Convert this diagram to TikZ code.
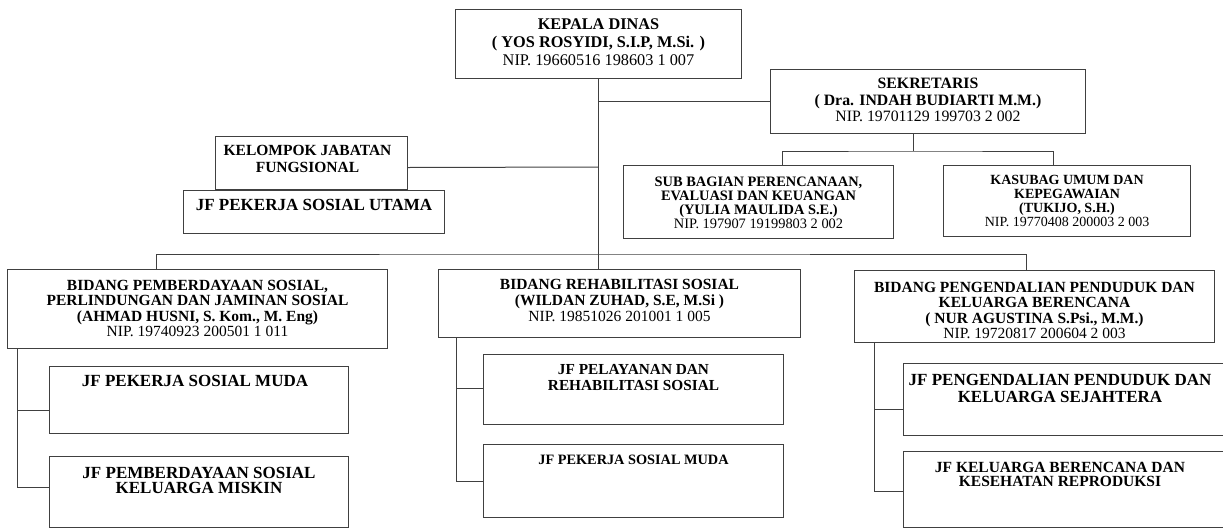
\documentclass[tikz,border=0pt]{standalone}
\usepackage{fontspec}
\setmainfont{Liberation Serif}
\usetikzlibrary{positioning}
\newcommand{\sz}[2]{\fontsize{#1}{#2}\selectfont\bfseries}

\begin{document}
\begin{tikzpicture}[x=1pt, y=-1pt,
    box/.style={draw=black!75, line width=1pt, anchor=north west, inner sep=0pt},
    txt/.style={anchor=north, align=center, inner sep=0pt, yshift=-10pt},
    link/.style={draw=black!75, line width=1pt}]
  \useasboundingbox (0,0) rectangle (1223,528);

  % Pimpinan
  \node[box, minimum width=286, minimum height=69,
    label={[txt, name=kadis-t, font=\sz{16.3}{18}]north:{KEPALA DINAS\\( YOS ROSYIDI, S.I.P, M.Si. )\\\mdseries NIP. 19660516 198603 1 007}}] (kadis) at (455,9) {};
  \node[box, minimum width=315, minimum height=64,
    label={[txt, name=sekr-t, yshift=1pt, font=\sz{15.8}{16.5}]north:{SEKRETARIS\\( Dra. INDAH BUDIARTI M.M.)\\\mdseries NIP. 19701129 199703 2 002}}] (sekr) at (770,69) {};

  % Kelompok jabatan fungsional
  \node[box, minimum width=192, minimum height=53,
    label={[txt, name=kelompok-t, yshift=1pt, xshift=-4pt, font=\sz{15.5}{16.7}]north:{KELOMPOK JABATAN\\FUNGSIONAL}}] (kelompok) at (215,136) {};
  \node[box, minimum width=261, minimum height=43,
    label={[txt, name=jfutama-t, yshift=1pt, font=\sz{17}{18}]north:{JF PEKERJA SOSIAL UTAMA}}] (jfutama) at (183,190) {};

  % Sub bagian
  \node[box, minimum width=270, minimum height=73,
    label={[txt, name=subbag-t, yshift=-2pt, font=\sz{14.4}{14}]north:{SUB BAGIAN PERENCANAAN,\\EVALUASI DAN KEUANGAN\\(YULIA MAULIDA S.E.)\\\mdseries NIP. 197907 19199803 2 002}}] (subbag) at (623,165) {};
  \node[box, minimum width=247, minimum height=71,
    label={[txt, name=kasubag-t, font=\sz{14}{14}]north:{KASUBAG UMUM DAN\\KEPEGAWAIAN\\(TUKIJO, S.H.)\\\mdseries NIP. 19770408 200003 2 003}}] (kasubag) at (943,165) {};

  % Bidang
  \node[box, minimum width=380, minimum height=79,
    label={[txt, name=bidpemb-t, yshift=-1pt, font=\sz{15.5}{15.5}]north:{BIDANG PEMBERDAYAAN SOSIAL,\\PERLINDUNGAN DAN JAMINAN SOSIAL\\(AHMAD HUSNI, S. Kom., M. Eng)\\\mdseries NIP. 19740923 200501 1 011}}] (bidpemb) at (7,269) {};
  \node[box, minimum width=362, minimum height=68,
    label={[txt, name=bidrehab-t, font=\sz{15.5}{16}]north:{BIDANG REHABILITASI SOSIAL\\(WILDAN ZUHAD, S.E, M.Si )\\\mdseries NIP. 19851026 201001 1 005}}] (bidrehab) at (438,269) {};
  \node[box, minimum width=360, minimum height=72,
    label={[txt, name=bidpeng-t, yshift=-2pt, font=\sz{15.5}{15.5}]north:{BIDANG PENGENDALIAN PENDUDUK DAN\\KELUARGA BERENCANA\\( NUR AGUSTINA S.Psi., M.M.)\\\mdseries NIP. 19720817 200604 2 003}}] (bidpeng) at (854,270) {};

  % Jabatan fungsional per bidang
  \node[box, minimum width=299, minimum height=67,
    label={[txt, name=jfmudaL-t, yshift=1pt, xshift=-4pt, font=\sz{17}{17}]north:{JF PEKERJA SOSIAL MUDA}}] (jfmudaL) at (49,366) {};
  \node[box, minimum width=299, minimum height=71,
    label={[txt, name=jfmiskin-t, yshift=-1pt, font=\sz{17}{15}]north:{JF PEMBERDAYAAN SOSIAL\\KELUARGA MISKIN}}] (jfmiskin) at (49,456) {};
  \node[box, minimum width=300, minimum height=70,
    label={[txt, name=jfpelay-t, font=\sz{15.3}{16}]north:{JF PELAYANAN DAN\\REHABILITASI SOSIAL}}] (jfpelay) at (483,354) {};
  \node[box, minimum width=300, minimum height=73,
    label={[txt, name=jfmudaM-t, yshift=-1pt, font=\sz{14.3}{15}]north:{JF PEKERJA SOSIAL MUDA}}] (jfmudaM) at (483,444) {};
  \node[box, minimum width=323, minimum height=72,
    label={[txt, name=jfpeng-t, yshift=-1pt, xshift=-5pt, font=\sz{17}{16.7}]north:{JF PENGENDALIAN PENDUDUK DAN\\KELUARGA SEJAHTERA}}] (jfpeng) at (903,363) {};
  \node[box, minimum width=323, minimum height=76,
    label={[txt, name=jfkb-t, yshift=-1pt, xshift=-5pt, font=\sz{15.5}{14}]north:{JF KELUARGA BERENCANA DAN\\KESEHATAN REPRODUKSI}}] (jfkb) at (903,451) {};

  % Garis
  \coordinate (bus) at (598,254);
  \coordinate (sbus) at (913,151);
  \draw[link] (kadis.south) -- (kadis.south |- bidrehab.north);
  \draw[link] (kadis.south |- sekr.west) -- (sekr.west);
  \draw[link] (kadis.south |- 0,167) -- ([yshift=-4.5pt]kelompok.east);
  \draw[link] ([xshift=149pt]bidpemb.north west) |- (bus) -| ([xshift=172pt]bidpeng.north west);
  \draw[link] (sbus |- sekr.south) -- (sbus);
  \draw[link] ([xshift=24pt]subbag.north) |- (sbus) -| ([xshift=-13.5pt]kasubag.north);
  \draw[link] ([xshift=10pt]bidpemb.south west) |- ([yshift=-10pt]jfmudaL.west);
  \draw[link] ([xshift=10pt]bidpemb.south west) |- ([yshift=4.5pt]jfmiskin.west);
  \draw[link] ([xshift=18pt]bidrehab.south west) |- ([yshift=1pt]jfpelay.west);
  \draw[link] ([xshift=18pt]bidrehab.south west) |- (jfmudaM.west);
  \draw[link] ([xshift=20pt]bidpeng.south west) |- ([yshift=-10pt]jfpeng.west);
  \draw[link] ([xshift=20pt]bidpeng.south west) |- ([yshift=-2pt]jfkb.west);
\end{tikzpicture}
\end{document}
